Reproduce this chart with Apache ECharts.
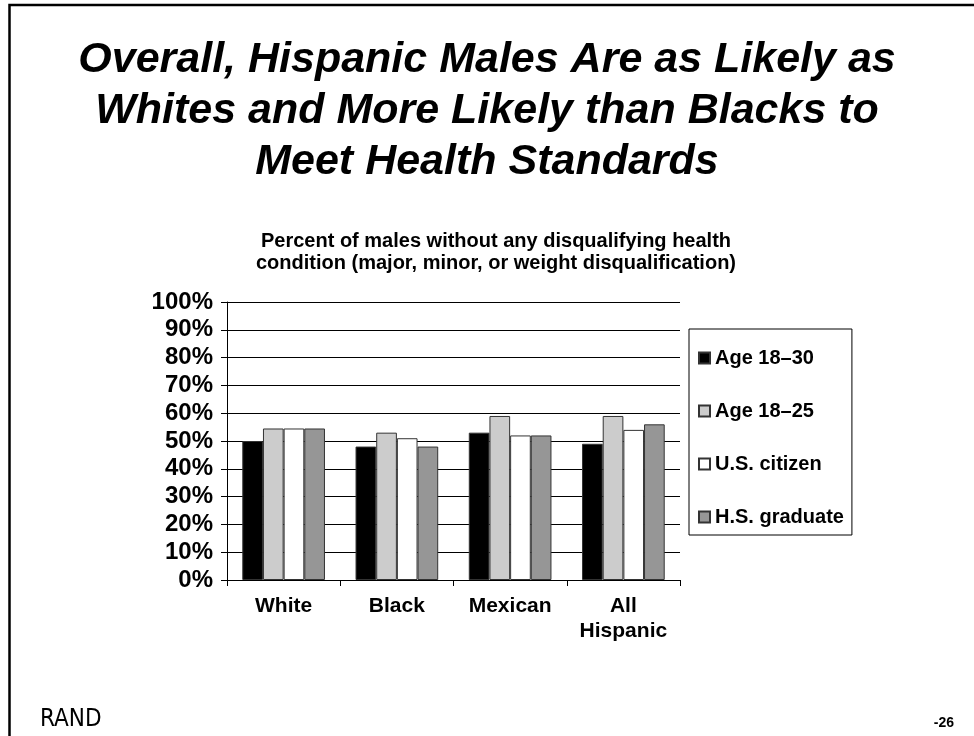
<!DOCTYPE html>
<html>
<head>
<meta charset="utf-8">
<title>Hispanic males health standards</title>
<script src="https://cdn.jsdelivr.net/npm/echarts@6/dist/echarts.min.js"></script>
<style>
  html, body { margin: 0; padding: 0; background: #fff; }
  #chart { width: 974px; height: 736px; }
</style>
</head>
<body>
<div id="chart"></div>
<script>
  // data
  const categories = ['White', 'Black', 'Mexican', 'All\nHispanic'];
  const seriesNames = ['Age 18–30', 'Age 18–25', 'U.S. citizen', 'H.S. graduate'];
  const age1830 = [50, 48, 53, 49];
  const age1825 = [54.5, 53, 59, 59];
  const usCitizen = [54.5, 51, 52, 54];
  const hsGraduate = [54.5, 48, 52, 56];
  const seriesColors = ['#000000', '#cccccc', '#ffffff', '#969696'];

  const FONT = '"Liberation Sans", Arial, sans-serif';
  const myChart = echarts.init(document.getElementById('chart'));

  const getOption = () => {
    const values = [age1830, age1825, usCitizen, hsGraduate];
    return {
      backgroundColor: '#fff',
      animation: false,
      title: [
        {
          text: 'Overall, Hispanic Males Are as Likely as\nWhites and More Likely than Blacks to\nMeet Health Standards',
          left: 'center',
          top: 30,
          textStyle: {
            fontFamily: FONT,
            fontSize: 43,
            fontWeight: 'bold',
            fontStyle: 'italic',
            lineHeight: 51,
            color: '#000',
          },
        },
        {
          text: 'Percent of males without any disqualifying health\ncondition (major, minor, or weight disqualification)',
          left: 491,
          textAlign: 'center',
          top: 225,
          textStyle: {
            fontFamily: FONT,
            fontSize: 20,
            fontWeight: 'bold',
            lineHeight: 22,
            color: '#000',
          },
        },
      ],
      legend: {
        orient: 'vertical',
        left: 689,
        top: 329,
        padding: [19, 8, 8, 9],
        borderColor: '#000',
        borderWidth: 1,
        itemGap: 33,
        itemWidth: 11,
        itemHeight: 11,
        icon: 'rect',
        data: seriesNames,
        textStyle: {
          fontFamily: FONT,
          fontSize: 20,
          fontWeight: 'bold',
          lineHeight: 20,
          color: '#000',
        },
      },
      grid: {
        left: 227,
        right: 294,
        top: 302,
        bottom: 156,
      },
      xAxis: {
        type: 'category',
        data: categories,
        axisLine: { lineStyle: { color: '#000', width: 1 } },
        axisTick: { show: true, interval: 0, length: 6, lineStyle: { color: '#000' } },
        axisLabel: {
          interval: 0,
          fontFamily: FONT,
          fontSize: 21,
          fontWeight: 'bold',
          lineHeight: 25,
          color: '#000',
          margin: 14,
        },
      },
      yAxis: {
        type: 'value',
        min: 0,
        max: 100,
        interval: 10,
        axisLine: { show: true, lineStyle: { color: '#000', width: 1 } },
        axisTick: { show: true, length: 6, lineStyle: { color: '#000' } },
        splitLine: { lineStyle: { color: '#000', width: 1 } },
        axisLabel: {
          formatter: '{value}%',
          fontFamily: FONT,
          fontSize: 24,
          fontWeight: 'bold',
          color: '#000',
          margin: 14,
        },
      },
      series: seriesNames.map((name, i) => ({
        name,
        type: 'bar',
        data: values[i],
        barGap: '0%',
        barCategoryGap: '27%',
        itemStyle: {
          color: seriesColors[i],
          borderColor: '#333',
          borderWidth: 1,
        },
      })),
      graphic: [
        // slide frame (top and left edges)
        {
          type: 'polyline',
          shape: { points: [[9.5, 736], [9.5, 5], [974, 5]] },
          style: { stroke: '#000', lineWidth: 2.5, fill: null },
        },
        {
          type: 'text',
          left: 40,
          top: 708,
          style: {
            text: 'RAND',
            font: '24px "Liberation Sans Narrow", "DejaVu Sans Condensed", sans-serif',
            fill: '#000',
          },
        },
        {
          type: 'text',
          right: 20,
          top: 716,
          style: {
            text: '-26',
            font: 'bold 14px "Liberation Sans", Arial, sans-serif',
            fill: '#000',
          },
        },
      ],
    };
  };

  myChart.setOption(getOption());
  window.addEventListener('resize', () => myChart.resize());
</script>
</body>
</html>
